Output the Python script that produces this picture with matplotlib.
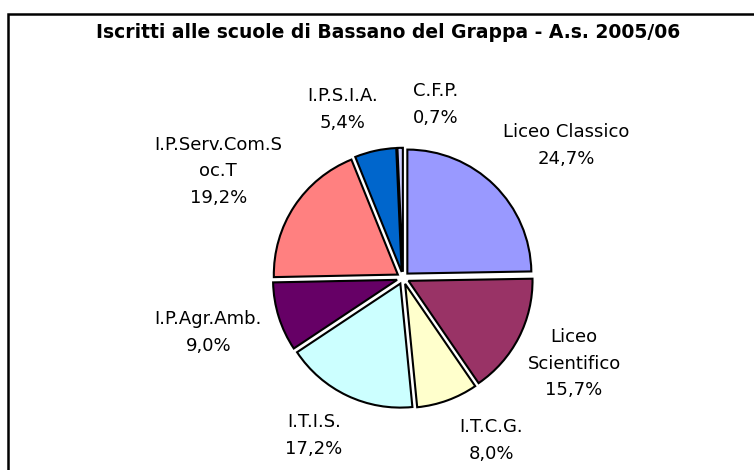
import matplotlib.pyplot as plt
from matplotlib.patches import Rectangle

plt.rcParams['font.family'] = ['DejaVu Sans']

schools = ["Liceo Classico", "Liceo\nScientifico", "I.T.C.G.", "I.T.I.S.",
           "I.P.Agr.Amb.", "I.P.Serv.Com.S\noc.T", "I.P.S.I.A.", "C.F.P."]
shares = [24.7, 15.7, 8.0, 17.2, 9.0, 19.2, 5.4, 0.7]
colors = ["#9999FF", "#993366", "#FFFFCC", "#CCFFFF",
          "#660066", "#FF8080", "#0066CC", "#CCCCFF"]

# label anchor points (pie radius = 1)
label_xy = [(1.32, 1.07), (1.38, -0.69), (0.71, -1.31), (-0.72, -1.27),
            (-1.57, -0.44), (-1.49, 0.86), (-0.49, 1.36), (0.26, 1.40)]

W, H = 754, 470
cx, cy, r = 403, 278, 124

fig = plt.figure(figsize=(W / 100, H / 100), dpi=100)
ax = fig.add_axes([0, 0, 1, 1])
ax.axis("off")

ax.pie(shares, colors=colors, startangle=90, counterclock=False,
       explode=[0.05] * len(shares), radius=1.0,
       wedgeprops=dict(edgecolor="black", linewidth=1.5))
ax.set_xlim(-cx / r, (W - cx) / r)
ax.set_ylim(-(H - cy) / r, cy / r)

for name, val, (x, y) in zip(schools, shares, label_xy):
    pct = f"{val:.1f}%".replace(".", ",")
    ax.text(x, y, f"{name}\n{pct}", ha="center", va="center",
            fontsize=13, linespacing=1.62)

fig.text(388 / W, 1 - 32 / H, "Iscritti alle scuole di Bassano del Grappa - A.s. 2005/06",
         ha="center", va="center", fontsize=13.5, fontweight="bold")

# open chart frame
fig.patches.append(Rectangle((8 / W, -0.1), 1.2, 1 - 14 / H + 0.1,
                             transform=fig.transFigure, fill=False,
                             edgecolor="black", linewidth=1.8))

fig.savefig("out.png", dpi=100)
